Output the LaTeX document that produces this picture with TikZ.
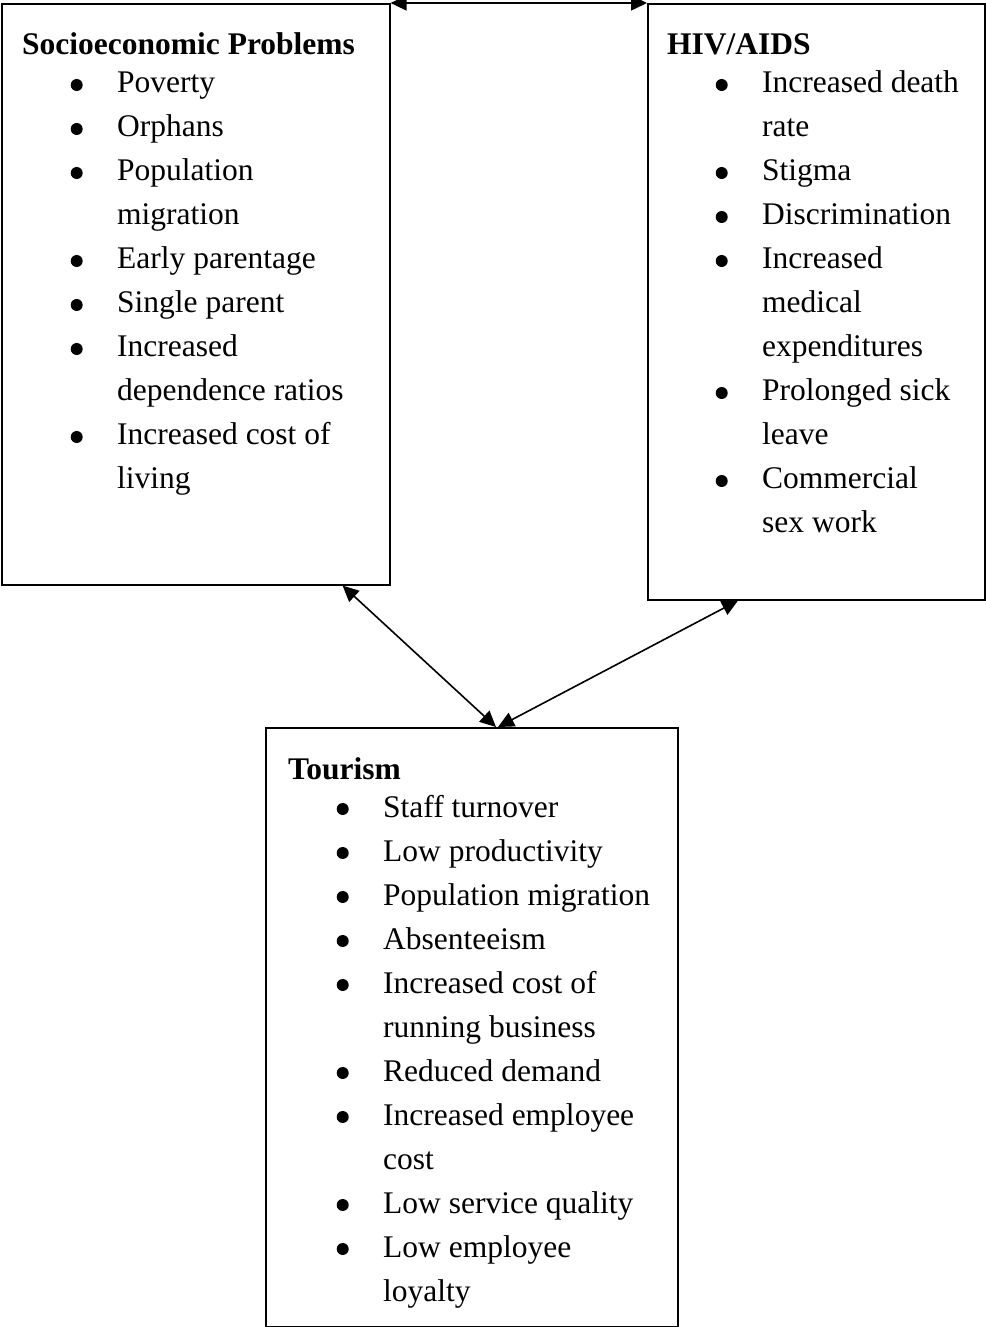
\documentclass[tikz,border=0pt]{standalone}
\usepackage{fontspec}
\setmainfont{Liberation Serif}
\usetikzlibrary{arrows.meta}

% round list bullet, then bullet line and continuation line of a list
\newcommand\listdot{\tikz[baseline=0pt,x=1pt,y=1pt]\fill (6,8) circle[radius=6pt];}
\newcommand\bitem[1]{\makebox[95pt][l]{\hspace*{48.5pt}\listdot}#1}
\newcommand\bcont[1]{\hspace*{95pt}#1}

\begin{document}
\begin{tikzpicture}[x=1pt,y=-1pt,
  box/.style={draw, line width=1.6pt, inner sep=0pt, anchor=north west},
  listtext/.style={anchor=base west, inner sep=0pt, font=\fontsize{31.5}{44}\selectfont},
  link/.style={line width=1.6pt, {Triangle[length=16pt,width=15pt]}-{Triangle[length=16pt,width=15pt]}}]

\useasboundingbox (0,0) rectangle (985,1327);

% frames
\node[box, minimum width=388pt, minimum height=581pt] (socio) at (1,3) {};
\node[box, minimum width=337pt, minimum height=596pt] (hiv) at (647,3) {};
\node[box, minimum width=412pt, minimum height=599pt] (tour) at (265,727) {};

% lists
\node[listtext] (sociotext) at (22,55) {\begin{tabular}[t]{@{}l@{}}
\textbf{Socioeconomic Problems}\\[-6pt]
\bitem{Poverty}\\
\bitem{Orphans}\\
\bitem{Population}\\
\bcont{migration}\\
\bitem{Early parentage}\\
\bitem{Single parent}\\
\bitem{Increased}\\
\bcont{dependence ratios}\\
\bitem{Increased cost of}\\
\bcont{living}
\end{tabular}};

\node[listtext] (hivtext) at (667,55) {\begin{tabular}[t]{@{}l@{}}
\textbf{HIV/AIDS}\\[-6pt]
\bitem{Increased death}\\
\bcont{rate}\\
\bitem{Stigma}\\
\bitem{Discrimination}\\
\bitem{Increased}\\
\bcont{medical}\\
\bcont{expenditures}\\
\bitem{Prolonged sick}\\
\bcont{leave}\\
\bitem{Commercial}\\
\bcont{sex work}
\end{tabular}};

\node[listtext] (tourtext) at (288,779) {\begin{tabular}[t]{@{}l@{}}
\textbf{Tourism}\\[-6pt]
\bitem{Staff turnover}\\
\bitem{Low productivity}\\
\bitem{Population migration}\\
\bitem{Absenteeism}\\
\bitem{Increased cost of}\\
\bcont{running business}\\
\bitem{Reduced demand}\\
\bitem{Increased employee}\\
\bcont{cost}\\
\bitem{Low service quality}\\
\bitem{Low employee}\\
\bcont{loyalty}
\end{tabular}};

% two-way links
\draw[link] (socio.north east) -- (hiv.north west);
\draw[link] ([xshift=-48pt]socio.south east) -- ([xshift=231pt]tour.north west);
\draw[link] ([xshift=91pt]hiv.south west) -- ([xshift=233pt]tour.north west);
\end{tikzpicture}
\end{document}
